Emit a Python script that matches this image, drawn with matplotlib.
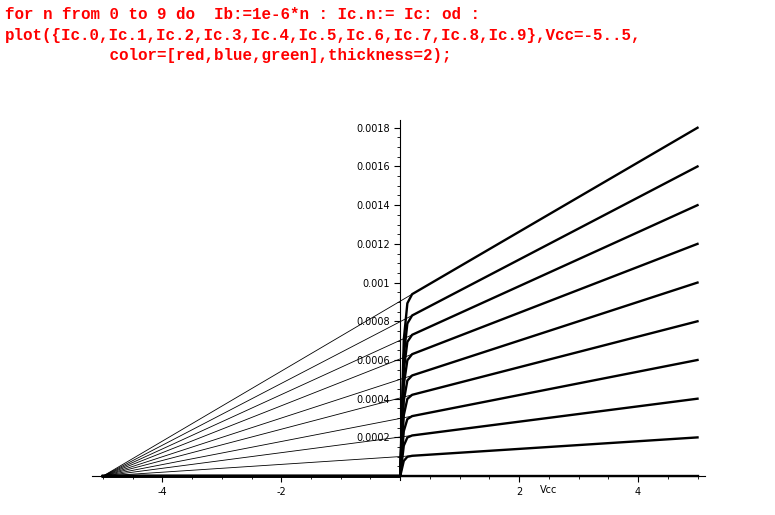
import matplotlib.pyplot as plt
from matplotlib.ticker import MultipleLocator

plt.rcParams["axes.unicode_minus"] = False

# base current steps n = 0..9
ic_knee = [0.0, 0.000105, 0.00021, 0.00031, 0.00042, 0.00052, 0.00063, 0.00073, 0.00083, 0.00094]
ic_end = [0.0, 0.0002, 0.0004, 0.0006, 0.0008, 0.0010, 0.0012, 0.0014, 0.0016, 0.0018]
vcc_knee = 0.2
vcc_min, vcc_max = -5, 5

fig = plt.figure(figsize=(7.75, 5.15), dpi=100)
code = ["for n from 0 to 9 do  Ib:=1e-6*n : Ic.n:= Ic: od :",
        "plot({Ic.0,Ic.1,Ic.2,Ic.3,Ic.4,Ic.5,Ic.6,Ic.7,Ic.8,Ic.9},Vcc=-5..5,",
        "           color=[red,blue,green],thickness=2);"]
for i, line in enumerate(code):
    fig.text(0.006, 0.972 - i * 0.040, line, family="Liberation Mono", weight="bold",
             color="#ff0000", fontsize=11.4, va="center")

ax = fig.add_axes([0.119, 0.068, 0.791, 0.699])
for k, e in zip(ic_knee, ic_end):
    # thin chord from the left end to the knee
    ax.plot([vcc_min, vcc_knee], [0, k], color="black", lw=0.6)
    ax.plot([vcc_min, 0, 0.06, 0.12, vcc_knee, vcc_max], [0, 0, 0.75 * k, 0.95 * k, k, e],
            color="black", lw=1.7, solid_joinstyle="round")

ax.set_xlim(-5.18, 5.13)
ax.set_ylim(-0.00002, 0.00184)
ax.spines["left"].set_position(("data", 0))
ax.spines["bottom"].set_position(("data", 0))
ax.spines["right"].set_visible(False)
ax.spines["top"].set_visible(False)
ax.set_xticks([-4, -2, 2, 4])
ax.set_yticks([0.0002, 0.0004, 0.0006, 0.0008, 0.001, 0.0012, 0.0014, 0.0016, 0.0018])
ax.set_yticklabels(["0.0002", "0.0004", "0.0006", "0.0008", "0.001", "0.0012",
                    "0.0014", "0.0016", "0.0018"])
ax.xaxis.set_minor_locator(MultipleLocator(0.5))
ax.yaxis.set_minor_locator(MultipleLocator(0.00005))
ax.tick_params(labelsize=7, length=4, width=0.8)
ax.tick_params(which="minor", length=2, width=0.6)
ax.text(2.5, -0.00007, "Vcc", fontsize=7, ha="center", va="center")

fig.savefig("out.png", dpi=100)
